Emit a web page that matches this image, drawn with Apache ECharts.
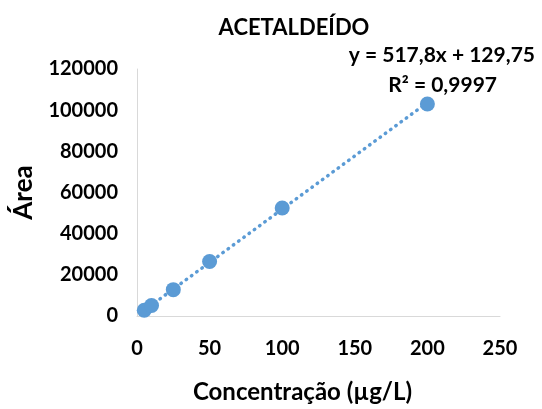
<!DOCTYPE html>
<html>
<head>
<meta charset="utf-8">
<script src="https://cdn.jsdelivr.net/npm/echarts@6/dist/echarts.min.js"></script>
<style>
  html, body { margin: 0; padding: 0; background: #fff; }
  #grafico { width: 542px; height: 409px; }
</style>
</head>
<body>
<div id="grafico"></div>
<script>
// concentration (µg/L) and peak area
var concentracao = [5, 10, 25, 50, 100, 200];
var area = [2800, 5100, 12800, 26500, 52500, 103000];

// Excel linear trendline, as printed on the chart
var trendSlope = 517.8;
var trendIntercept = 129.75;
var trendX = [5, 200];

var xTicks = { min: 0, max: 250, interval: 50 };
var yTicks = { min: 0, max: 120000, interval: 20000 };

var titulo = 'ACETALDEÍDO';
var equacao = 'y = 517,8x + 129,75';
var r2 = 'R² = 0,9997';

var font = 'Lato, "Open Sans", sans-serif';
var azul = '#5b9bd5';

var dom = document.getElementById('grafico');
var myChart = echarts.init(dom);

var pontos = concentracao.map(function (c, i) { return [c, area[i]]; });
var tendencia = trendX.map(function (x) { return [x, trendSlope * x + trendIntercept]; });

var option = {
    backgroundColor: '#fff',
    animation: false,
    title: {
        text: titulo,
        left: 289,
        top: 12,
        textAlign: 'center',
        textStyle: { fontFamily: font, fontWeight: 'bold', fontSize: 22, color: '#000' }
    },
    graphic: [
        {
            type: 'text', right: 7, top: 45,
            style: { text: equacao, fontFamily: font, fontWeight: 'bold', fontSize: 21, fill: '#000' }
        },
        {
            type: 'text', right: 45, top: 75,
            style: { text: r2, fontFamily: font, fontWeight: 'bold', fontSize: 21, fill: '#000' }
        }
    ],
    grid: { left: 137, top: 69, right: 42, bottom: 90 },
    xAxis: {
        type: 'value',
        min: xTicks.min, max: xTicks.max, interval: xTicks.interval,
        name: 'Concentração (µg/L)',
        nameLocation: 'middle',
        nameGap: 64,
        nameTextStyle: {
            fontFamily: font, fontWeight: 'bold', fontSize: 24, color: '#000',
            padding: [0, 32, 0, 0]
        },
        axisLine: { lineStyle: { color: '#d9d9d9' } },
        axisTick: { show: false },
        splitLine: { show: false },
        axisLabel: { fontFamily: font, fontWeight: 'bold', fontSize: 20, color: '#000', margin: 23 }
    },
    yAxis: {
        type: 'value',
        min: yTicks.min, max: yTicks.max, interval: yTicks.interval,
        name: 'Área',
        nameLocation: 'middle',
        nameGap: 100,
        nameTextStyle: { fontFamily: font, fontWeight: 'bold', fontSize: 26, color: '#000' },
        axisLine: { show: true, lineStyle: { color: '#d9d9d9' } },
        axisTick: { show: false },
        splitLine: { show: false },
        axisLabel: {
            fontFamily: font, fontWeight: 'bold', fontSize: 20, color: '#000', margin: 19,
            formatter: function (v) { return String(v); }
        }
    },
    series: [
        {
            type: 'line',
            data: tendencia,
            showSymbol: false,
            lineStyle: { color: azul, width: 3.5, type: [0.5, 6], cap: 'round' },
            silent: true,
            z: 1
        },
        {
            type: 'scatter',
            data: pontos,
            symbolSize: 15,
            itemStyle: { color: azul, opacity: 1 },
            z: 2
        }
    ]
};

if (option && typeof option === "object") {
    myChart.setOption(option, true);
}
</script>
</body>
</html>
